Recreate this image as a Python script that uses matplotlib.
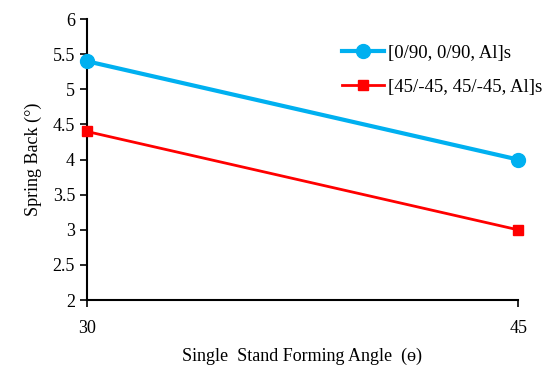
import matplotlib.pyplot as plt

angle = [30, 45]
sb_0_90 = [5.4, 4.0]
sb_45_45 = [4.4, 3.0]
labels = ['[0/90, 0/90, Al]s', '[45/-45, 45/-45, Al]s']

plt.rcParams['font.family'] = ['Liberation Serif', 'DejaVu Serif']

fig = plt.figure(figsize=(5.53, 3.66), dpi=100)
ax = fig.add_axes([0.157, 0.180, 0.780, 0.768])

ax.plot(angle, sb_0_90, color='#00B0F0', lw=3, marker='o', markersize=10,
        label=labels[0], clip_on=False, zorder=3)
ax.plot(angle, sb_45_45, color='#FF0000', lw=2, marker='s', markersize=7,
        label=labels[1], clip_on=False, zorder=3)

ax.set_xlim(30, 45)
ax.set_ylim(2, 6)
ax.set_xticks(angle)
ax.set_yticks([2, 2.5, 3, 3.5, 4, 4.5, 5, 5.5, 6])
ax.set_yticklabels(['2', '2.5', '3', '3.5', '4', '4.5', '5', '5.5', '6'])
ax.tick_params(labelsize=13, length=5, width=1.2, direction='out')
ax.tick_params(axis='x', pad=9)
ax.spines['top'].set_visible(False)
ax.spines['right'].set_visible(False)
ax.spines['left'].set_linewidth(1.5)
ax.spines['bottom'].set_linewidth(1.5)

ax.set_xlabel('Single  Stand Forming Angle  (ө)', fontsize=13, labelpad=8)
ax.set_ylabel('Spring Back (°)', fontsize=13, labelpad=8)

ax.legend(loc='upper left', bbox_to_anchor=(0.575, 0.935), frameon=False,
          fontsize=13.5, handlelength=2.2, handletextpad=0.25, labelspacing=0.9,
          borderaxespad=0)

fig.savefig('out.png', dpi=100)
